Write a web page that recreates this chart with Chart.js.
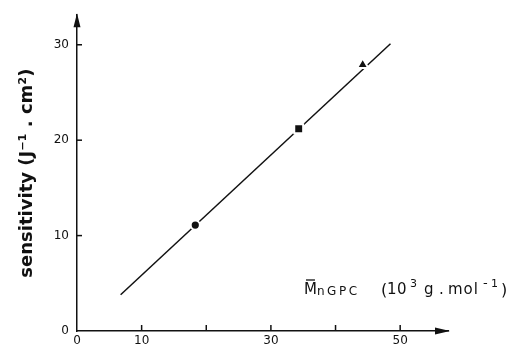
<!DOCTYPE html>
<html>
<head>
<meta charset="utf-8">
<script src="https://cdn.jsdelivr.net/npm/chart.js@4.4.1/dist/chart.umd.min.js"></script>
<style>
  html, body { margin: 0; padding: 0; background: #fff; }
</style>
</head>
<body>
<canvas id="chart" width="518" height="349"></canvas>
<script>
// fitted line end points
const lineX = [6.75, 48.5];
const lineY = [3.8, 30.1];
// measured samples
const circleX = [18.3];
const circleY = [11.1];
const squareX = [34.3];
const squareY = [21.2];
const triangleX = [44.2];
const triangleY = [27.9];
// axes
const xTicks = [0, 10, 20, 30, 40, 50];
const xLabelled = [0, 10, 30, 50];
const yTicks = [0, 10, 20, 30];

const pts = (xs, ys) => xs.map((x, i) => ({ x, y: ys[i] }));
const FONT = '"DejaVu Sans", "Liberation Sans", sans-serif';

const axisDecor = {
  id: 'axisDecor',
  afterDraw(chart) {
    const { ctx, chartArea: a, scales: { x, y } } = chart;
    ctx.save();
    ctx.strokeStyle = '#111';
    ctx.fillStyle = '#111';
    ctx.lineWidth = 1.5;
    // inward ticks
    xTicks.slice(1).forEach((v) => {
      const px = x.getPixelForValue(v);
      ctx.beginPath();
      ctx.moveTo(px, a.bottom);
      ctx.lineTo(px, a.bottom - 6);
      ctx.stroke();
    });
    yTicks.slice(1).forEach((v) => {
      const py = y.getPixelForValue(v);
      ctx.beginPath();
      ctx.moveTo(a.left, py);
      ctx.lineTo(a.left + 5, py);
      ctx.stroke();
    });
    // arrow heads
    ctx.beginPath();
    ctx.moveTo(a.right + 2, a.bottom);
    ctx.lineTo(a.right - 13, a.bottom - 3.5);
    ctx.lineTo(a.right - 13, a.bottom + 3.5);
    ctx.closePath();
    ctx.fill();
    ctx.beginPath();
    ctx.moveTo(a.left, a.top - 2);
    ctx.lineTo(a.left - 3.5, a.top + 12);
    ctx.lineTo(a.left + 3.5, a.top + 12);
    ctx.closePath();
    ctx.fill();

    // x axis title, drawn inside the plot area
    const x0 = a.left + 227;
    const base = a.bottom - 37;
    ctx.textBaseline = 'alphabetic';
    ctx.textAlign = 'left';
    const put = (t, dx, size, dy, spacing) => {
      ctx.font = `${size}px ${FONT}`;
      ctx.letterSpacing = spacing || '0px';
      ctx.fillText(t, x0 + dx, base + dy);
      return ctx.measureText(t).width;
    };
    const mW = put('M', 0, 15, 0, '0px');
    ctx.lineWidth = 1.3;
    ctx.beginPath();
    ctx.moveTo(x0 + 2, base - 14);
    ctx.lineTo(x0 + mW - 2, base - 14);
    ctx.stroke();
    put('nGPC', 13, 12, 1, '2.5px');
    put('(', 77, 16, 1);
    put('10', 83, 15, 0, '0.5px');
    put('3', 106, 11, -7);
    put('g', 120, 15, 0);
    put('.', 135, 15, 0);
    put('mol', 144, 15, 0, '1px');
    put('-', 179, 13, -7);
    put('1', 187, 11, -7);
    put(')', 197, 16, 1);
    ctx.restore();
  }
};

new Chart(document.getElementById('chart'), {
  type: 'scatter',
  data: {
    datasets: [
      {
        data: pts(circleX, circleY),
        pointStyle: 'circle',
        pointRadius: 4.6,
        backgroundColor: '#111',
        borderColor: '#fff',
        borderWidth: 2
      },
      {
        data: pts(squareX, squareY),
        pointStyle: 'rect',
        pointRadius: 6.3,
        backgroundColor: '#111',
        borderColor: '#fff',
        borderWidth: 2
      },
      {
        data: pts(triangleX, triangleY),
        pointStyle: 'triangle',
        pointRadius: 6.5,
        backgroundColor: '#111',
        borderColor: '#fff',
        borderWidth: 2
      },
      {
        data: pts(lineX, lineY),
        showLine: true,
        pointRadius: 0,
        borderColor: '#111',
        borderWidth: 1.5
      }
    ]
  },
  options: {
    responsive: false,
    animation: false,
    events: [],
    layout: { padding: { top: 13, right: 70, bottom: 0, left: 0 } },
    plugins: { legend: { display: false }, tooltip: { enabled: false } },
    scales: {
      x: {
        type: 'linear',
        min: 0,
        max: 57.4,
        afterBuildTicks: (s) => { s.ticks = xTicks.map((v) => ({ value: v })); },
        afterFit: (s) => { s.height = 18; },
        grid: { display: false, drawTicks: false },
        border: { display: true, color: '#111', width: 1.5 },
        ticks: {
          padding: 3,
          maxRotation: 0,
          color: '#111',
          font: { family: FONT, size: 12 },
          callback: (v) => (xLabelled.includes(v) ? String(v) : '')
        }
      },
      y: {
        type: 'linear',
        min: 0,
        max: 33.1,
        afterBuildTicks: (s) => { s.ticks = yTicks.map((v) => ({ value: v })); },
        afterFit: (s) => { s.width = 77; },
        grid: { display: false, drawTicks: false },
        border: { display: true, color: '#111', width: 1.5 },
        ticks: {
          padding: 8,
          color: '#111',
          font: { family: FONT, size: 12 }
        },
        title: {
          display: true,
          text: 'sensitivity (J⁻¹ . cm²)',
          color: '#111',
          padding: { top: 17, bottom: 0 },
          font: { family: FONT, size: 18, weight: 'bold' }
        }
      }
    }
  },
  plugins: [axisDecor]
});
</script>
</body>
</html>
